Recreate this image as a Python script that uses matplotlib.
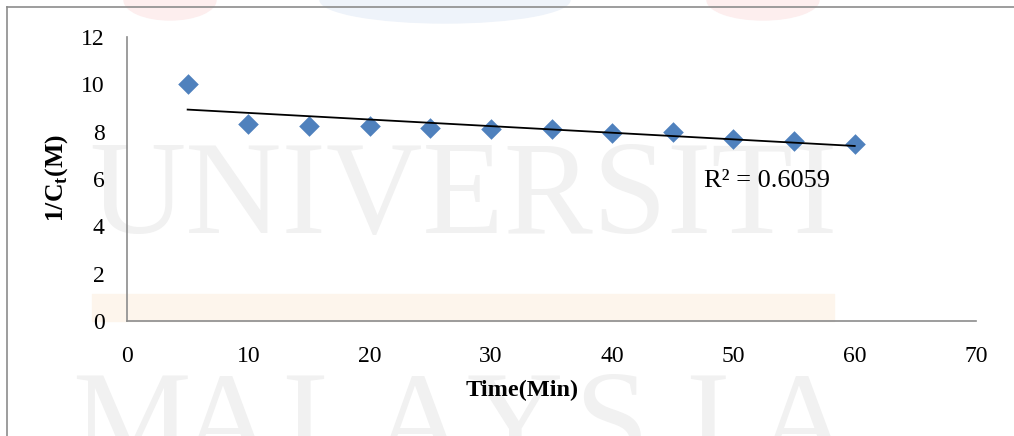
import numpy as np
import matplotlib
matplotlib.use("Agg")
import matplotlib.pyplot as plt
from matplotlib.patches import Rectangle, Ellipse

# Data
time_min = [5, 10, 15, 20, 25, 30, 35, 40, 45, 50, 55, 60]
inv_ct = [10.03, 8.33, 8.24, 8.23, 8.17, 8.11, 8.11, 7.95, 7.99, 7.71, 7.60, 7.50]
x_ticks = [0, 10, 20, 30, 40, 50, 60, 70]
y_ticks = [0, 2, 4, 6, 8, 10, 12]
r2_label = "R² = 0.6059"

x = np.array(time_min, dtype=float)
y = np.array(inv_ct, dtype=float)
slope, intercept = np.polyfit(x, y, 1)
fit = slope * x + intercept

plt.rcParams['font.family'] = ['Liberation Serif', 'DejaVu Serif']

W, H = 1014, 436
fig = plt.figure(figsize=(W / 100, H / 100), dpi=100)
fig.patch.set_facecolor('white')

# faint watermark (behind everything)
wm = '#f1f1f1'
fig.text(463 / W, 1 - 233 / H, "UNIVERSITI", fontsize=96, color=wm,
         ha='center', va='baseline', zorder=-5)
for i, ch in enumerate("MALAYSIA"):
    fig.text((131 + i * 96) / W, 1 - 463 / H, ch, fontsize=96, color=wm,
             ha='center', va='baseline', zorder=-5)
fig.patches.append(Rectangle((92 / W, 1 - 321 / H), 742 / W, 27 / H,
                             transform=fig.transFigure, color='#fdf5ec', zorder=-5))
for cx, w, h, col in [(170, 92, 40, '#fdeeee'), (445, 250, 46, '#eef3fa'), (763, 112, 40, '#fdeeee')]:
    fig.patches.append(Ellipse((cx / W, 1.0), w / W, h / H,
                               transform=fig.transFigure, color=col, zorder=-5))

# chart frame
fig.add_artist(plt.Line2D([7 / W, 7 / W], [0, 1 - 7 / H], transform=fig.transFigure,
                          color='#8c8c8c', lw=1.2))
fig.add_artist(plt.Line2D([7 / W, 1], [1 - 7 / H, 1 - 7 / H], transform=fig.transFigure,
                          color='#8c8c8c', lw=1.2))

ax = fig.add_axes([127 / W, 1 - 321 / H, (976 - 127) / W, (321 - 37) / H])
ax.patch.set_alpha(0)
ax.scatter(x, y, marker='D', s=110, color='#4F81BD', linewidths=0, zorder=3)
ax.plot(x, fit, color='black', lw=1.3, zorder=4)

ax.set_xlim(0, 70)
ax.set_ylim(0, 12)
ax.set_xticks(x_ticks)
ax.set_yticks(y_ticks)
ax.tick_params(axis='both', length=0, labelsize=17, colors='black')
ax.tick_params(axis='x', pad=18)
ax.tick_params(axis='y', pad=16)
for s in ['top', 'right']:
    ax.spines[s].set_visible(False)
for s in ['left', 'bottom']:
    ax.spines[s].set_color('#8c8c8c')
    ax.spines[s].set_linewidth(1.2)

fig.text(522 / W, 1 - 390 / H, "Time(Min)", fontsize=17.5, fontweight='bold',
         ha='center', va='center')
fig.text(57 / W, 1 - 178 / H, r"1/C$_\mathregular{t}$(M)", fontsize=18.5, fontweight='bold',
         rotation=90, ha='center', va='center')
ax.text(47.6, 5.66, r2_label, fontsize=19, ha='left', va='baseline')

fig.savefig("out.png", dpi=100)
